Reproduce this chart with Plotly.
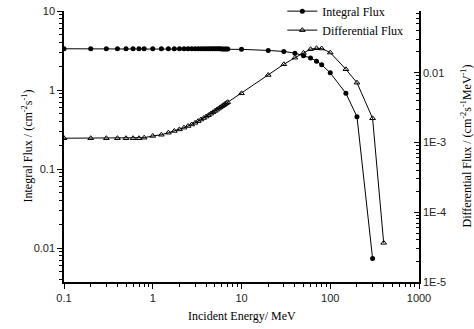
import plotly.graph_objects as go
import numpy as np

energy = [0.1, 0.2, 0.3, 0.4, 0.5, 0.6, 0.7, 0.8, 1.0, 1.25, 1.5, 1.75, 2.0, 2.25, 2.5,
          2.75, 3.0, 3.25, 3.5, 3.75, 4.0, 4.25, 4.5, 4.75, 5.0, 5.25, 5.5, 5.75, 6.0,
          6.25, 6.5, 6.75, 7.0, 10, 20, 30, 40, 50, 60, 70, 80, 100, 150, 200, 300]
integral_flux = [3.33, 3.33, 3.33, 3.33, 3.33, 3.33, 3.33, 3.33, 3.33, 3.33, 3.33, 3.33,
                 3.33, 3.33, 3.33, 3.33, 3.33, 3.33, 3.33, 3.33, 3.33, 3.33, 3.32, 3.32,
                 3.32, 3.32, 3.32, 3.32, 3.31, 3.31, 3.31, 3.31, 3.31, 3.27, 3.17, 3.08,
                 2.93, 2.72, 2.55, 2.32, 2.09, 1.65, 0.91, 0.46, 0.0074]

energy_diff = [0.1, 0.2, 0.3, 0.4, 0.5, 0.6, 0.7, 0.8, 1.0, 1.25, 1.5, 1.75, 2.0, 2.25, 2.5,
               2.75, 3.0, 3.25, 3.5, 3.75, 4.0, 4.25, 4.5, 4.75, 5.0, 5.25, 5.5, 5.75, 6.0,
               6.25, 6.5, 6.75, 7.0, 10, 20, 30, 40, 50, 60, 70, 80, 100, 150, 200, 300, 400]
differential_flux = [1.15e-3, 1.15e-3, 1.15e-3, 1.15e-3, 1.15e-3, 1.15e-3, 1.15e-3, 1.17e-3,
                     1.24e-3, 1.29e-3, 1.38e-3, 1.46e-3, 1.54e-3, 1.63e-3, 1.72e-3,
                     1.81e-3, 1.91e-3, 2.02e-3, 2.13e-3, 2.24e-3, 2.35e-3, 2.46e-3, 2.58e-3,
                     2.70e-3, 2.82e-3, 2.94e-3, 3.06e-3, 3.18e-3, 3.30e-3, 3.42e-3, 3.54e-3,
                     3.66e-3, 3.78e-3, 5.06e-3, 9.27e-3, 0.0132, 0.0164, 0.0192, 0.0217,
                     0.0224, 0.0222, 0.0194, 0.0112, 7.19e-3, 2.22e-3, 3.64e-5]

x_ticks = [0.1, 1, 10, 100, 1000]
x_ticktext = ["0.1", "1", "10", "100", "1000"]
yl_ticks = [0.01, 0.1, 1, 10]
yl_ticktext = ["0.01", "0.1", "1", "10"]
yr_ticks = [1e-5, 1e-4, 1e-3, 1e-2]
yr_ticktext = ["1E-5", "1E-4", "1E-3", "0.01"]

x_title = "Incident Energy/ MeV"
yl_title = "Integral Flux / (cm<sup>-2</sup>s<sup>-1</sup>)"
yr_title = "Differential Flux / (cm<sup>-2</sup>s<sup>-1</sup>MeV<sup>-1</sup>)"

serif = "Liberation Serif, Times New Roman, serif"
sans = "Liberation Sans, Arial, sans-serif"


def minor_positions(decades):
    return [m * 10.0 ** d for d in decades for m in range(2, 10)]


x_minor = minor_positions(range(-1, 3))
yl_minor = minor_positions(range(-3, 1))
yr_minor = minor_positions(range(-5, -1))

fig = go.Figure()
fig.add_trace(go.Scatter(
    x=energy, y=integral_flux, name="Integral Flux", mode="lines+markers",
    line=dict(color="black", width=1),
    marker=dict(symbol="circle", size=5, color="black"),
    yaxis="y"))
fig.add_trace(go.Scatter(
    x=energy_diff, y=differential_flux, name="Differential Flux", mode="lines+markers",
    line=dict(color="black", width=1),
    marker=dict(symbol="triangle-up-open", size=5, color="black", line=dict(width=1)),
    yaxis="y2"))

axis_common = dict(showgrid=False, zeroline=False, showline=True, mirror=False,
                   linewidth=1.5, linecolor="black", tickcolor="black", tickwidth=1,
                   automargin=False,
                   tickfont=dict(family=sans, size=11, color="#222"))

fig.update_layout(
    width=474, height=329,
    margin=dict(l=64, r=55, t=11, b=47, autoexpand=False),
    paper_bgcolor="white", plot_bgcolor="white",
    showlegend=True,
    legend=dict(x=0.615, y=1.053, xanchor="left", yanchor="top",
                font=dict(family=serif, size=12, color="black"),
                bgcolor="rgba(0,0,0,0)", borderwidth=0, itemwidth=30, tracegroupgap=0),
    xaxis=dict(type="log", range=[-1, 3], tickvals=x_ticks, ticktext=x_ticktext,
               ticks="outside", ticklen=5,
               minor=dict(tickmode="array", tickvals=x_minor, ticks="outside", ticklen=3,
                          tickcolor="black", showgrid=False),
               **axis_common),
    yaxis=dict(type="log", range=[np.log10(0.00373), 1], tickvals=yl_ticks, ticktext=yl_ticktext,
               ticks="outside", ticklen=5,
               minor=dict(tickmode="array", tickvals=yl_minor, ticks="outside", ticklen=3,
                          tickcolor="black", showgrid=False),
               **axis_common),
    yaxis2=dict(type="log", range=[-5, -1.116], tickvals=yr_ticks, ticktext=yr_ticktext,
                overlaying="y", side="right",
                ticks="inside", ticklen=5,
                minor=dict(tickmode="array", tickvals=yr_minor, ticks="inside", ticklen=3,
                           tickcolor="black", showgrid=False),
                **axis_common),
    annotations=[
        dict(text=x_title, xref="paper", yref="paper", x=0.5, y=0, xanchor="center",
             yanchor="middle", yshift=-34, showarrow=False,
             font=dict(family=serif, size=12, color="black")),
        dict(text=yl_title, xref="paper", yref="paper", x=0, y=0.5, xanchor="center",
             yanchor="middle", xshift=-37, textangle=-90, showarrow=False,
             font=dict(family=serif, size=12, color="black")),
        dict(text=yr_title, xref="paper", yref="paper", x=1, y=0.5, xanchor="center",
             yanchor="middle", xshift=47, textangle=-90, showarrow=False,
             font=dict(family=serif, size=12, color="black")),
    ],
)

fig.write_html("out.html")
